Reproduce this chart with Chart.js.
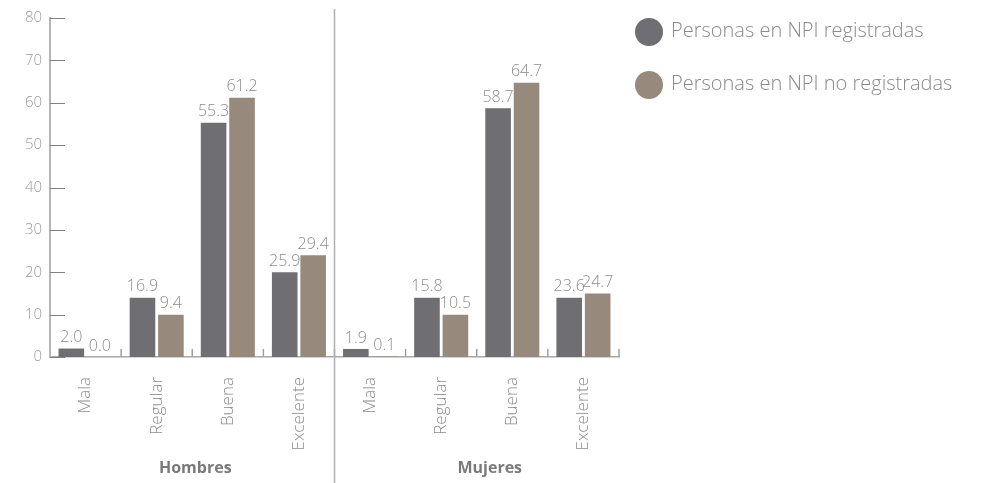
<!DOCTYPE html>
<html>
<head>
<meta charset="utf-8">
<script src="https://cdn.jsdelivr.net/npm/chart.js@4.4.0/dist/chart.umd.min.js"></script>
<style>
  html, body { margin: 0; padding: 0; background: #fff; }
  #wrap { position: relative; width: 990px; height: 483px; }
  .dot { position: absolute; width: 28px; height: 28px; border-radius: 50%; }
  .txt { position: absolute; font-family: "Open Sans", sans-serif; font-weight: 300; font-size: 20px; color: #8a8a8a; line-height: 28px; white-space: nowrap; }
</style>
</head>
<body>
<div id="wrap">
  <canvas id="chart" width="990" height="483"></canvas>
  <div class="dot" style="left:635px;top:18px;background:#6f6e73"></div>
  <div class="txt" id="leg1" style="left:671px;top:16px"></div>
  <div class="dot" style="left:635px;top:71px;background:#978a7c"></div>
  <div class="txt" id="leg2" style="left:671px;top:69px"></div>
</div>
<script>
var categories = ["Mala", "Regular", "Buena", "Excelente", "Mala", "Regular", "Buena", "Excelente"];
var groups = ["Hombres", "Mujeres"];
var seriesNames = ["Personas en NPI registradas", "Personas en NPI no registradas"];

// bar heights as drawn in the picture
var registradas = [2.0, 14, 55.3, 20, 1.9, 14, 58.7, 14];
var noRegistradas = [0.0, 10, 61.2, 24, 0.1, 10, 64.7, 15];

// values printed above the bars
var registradasLabels = [2.0, 16.9, 55.3, 25.9, 1.9, 15.8, 58.7, 23.6];
var noRegistradasLabels = [0.0, 9.4, 61.2, 29.4, 0.1, 10.5, 64.7, 24.7];

var yTicks = [0, 10, 20, 30, 40, 50, 60, 70, 80];

document.getElementById("leg1").textContent = seriesNames[0];
document.getElementById("leg2").textContent = seriesNames[1];

Chart.defaults.font.family = "'Open Sans', sans-serif";

var extras = {
    id: 'extras',
    afterDraw: function(chart) {
        var ctx = chart.ctx;
        var x = chart.scales.x;
        var y = chart.scales.y;
        var area = chart.chartArea;
        ctx.save();

        // inward tick marks on the y axis
        ctx.strokeStyle = '#808080';
        ctx.lineWidth = 1;
        yTicks.forEach(function(v) {
            var py = Math.round(y.getPixelForValue(v)) + 0.5;
            ctx.beginPath();
            ctx.moveTo(area.left, py);
            ctx.lineTo(area.left + 15, py);
            ctx.stroke();
        });

        // upward tick marks between categories
        ctx.strokeStyle = '#a0a0a0';
        ctx.lineWidth = 1.5;
        for (var i = 1; i <= categories.length; i++) {
            var bx = i < categories.length
                ? (x.getPixelForValue(i - 1) + x.getPixelForValue(i)) / 2
                : area.right;
            ctx.beginPath();
            ctx.moveTo(bx, area.bottom);
            ctx.lineTo(bx, area.bottom - 8);
            ctx.stroke();
        }

        // divider between the two groups
        var dx = (x.getPixelForValue(3) + x.getPixelForValue(4)) / 2;
        ctx.strokeStyle = '#b0b0b0';
        ctx.lineWidth = 1.5;
        ctx.beginPath();
        ctx.moveTo(dx, 9);
        ctx.lineTo(dx, chart.height);
        ctx.stroke();

        // value labels
        ctx.font = "300 16px 'Open Sans', sans-serif";
        ctx.fillStyle = '#8c8c8c';
        ctx.textAlign = 'center';
        ctx.textBaseline = 'bottom';
        [registradasLabels, noRegistradasLabels].forEach(function(labels, d) {
            var meta = chart.getDatasetMeta(d);
            meta.data.forEach(function(bar, j) {
                ctx.fillText(labels[j].toFixed(1), bar.x, bar.y - 3);
            });
        });

        // group labels
        ctx.font = "bold 16px 'Open Sans', sans-serif";
        ctx.fillStyle = '#7a7a7a';
        ctx.textBaseline = 'middle';
        var shift = [3, 13];
        groups.forEach(function(g, k) {
            var c = 0;
            for (var m = 0; m < 4; m++) c += x.getPixelForValue(k * 4 + m);
            ctx.fillText(g, c / 4 + shift[k], 468);
        });
        ctx.restore();
    }
};

var ctx = document.getElementById("chart");
var chart = new Chart(ctx, {
    type: 'bar',
    data: {
        labels: categories,
        datasets: [{
            label: seriesNames[0],
            data: registradas,
            backgroundColor: '#6f6e73'
        }, {
            label: seriesNames[1],
            data: noRegistradas,
            backgroundColor: '#978a7c'
        }]
    },
    options: {
        responsive: false,
        animation: false,
        categoryPercentage: 0.8,
        barPercentage: 0.9,
        layout: { padding: { top: 18, right: 371, bottom: 0, left: 0 } },
        plugins: {
            legend: { display: false },
            tooltip: { enabled: false }
        },
        scales: {
            x: {
                grid: { display: false, drawTicks: false },
                border: { display: true, color: '#a8a8a8', width: 1.5 },
                ticks: {
                    color: '#8c8c8c',
                    font: { size: 17, weight: 300 },
                    minRotation: 90,
                    maxRotation: 90,
                    padding: 20,
                    autoSkip: false
                },
                afterFit: function(s) { s.height = 126; }
            },
            y: {
                min: 0,
                max: 80,
                grid: { display: false, drawTicks: false },
                border: { display: true, color: '#b5b5b5', width: 2 },
                ticks: {
                    stepSize: 10,
                    color: '#9b9b9b',
                    font: { size: 15, weight: 300 },
                    padding: 8
                },
                afterFit: function(s) { s.width = 50; }
            }
        }
    },
    plugins: [extras]
});
</script>
</body>
</html>
